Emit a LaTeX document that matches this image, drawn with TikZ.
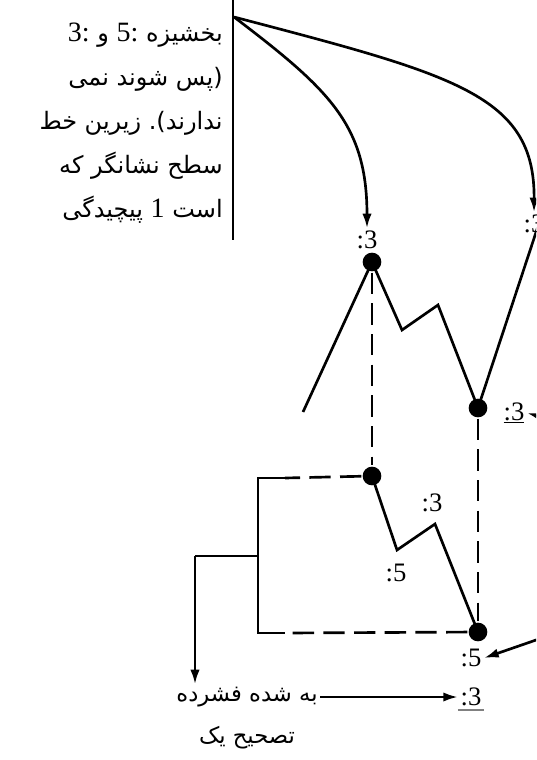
\documentclass[tikz,border=0pt]{standalone}
\usepackage{fontspec}
\setmainfont{Liberation Serif}
\newfontfamily\fafont[Script=Arabic]{DejaVu Sans}
\usetikzlibrary{arrows.meta}
% one word in its own box, so the words keep the order of the reference
\newcommand\fw[1]{\hbox{#1}}
\newcommand\fdig[1]{\hbox{\rmfamily\fontsize{21}{22}\selectfont #1}}

\tikzset{
  dot/.style={circle,fill,inner sep=0pt,minimum size=14pt},
  num/.style={font=\fontsize{20}{22}\selectfont,inner sep=1pt},
  note/.style={font=\fafont\fontsize{18}{33}\selectfont,align=right,inner sep=0pt},
  fatext/.style={font=\fafont\fontsize{17}{20}\selectfont,inner sep=1pt},
  dline/.style={dash pattern=on 16pt off 7pt},
  tip/.style={-{Latex[length=11pt,width=7pt]}},
}

\begin{document}
\begin{tikzpicture}[x=0.75pt,y=-0.75pt,line width=2pt]
    \useasboundingbox (0,0) rectangle (536,760);
    \clip (0,0) rectangle (536,760);

    % note on the left, with its bar
    \node[note,anchor=east] (txt) at (224,123)
        {\fdig{3:} \fw{و} \fdig{5:} \fw{بخشیزه}\\
         \fw{نمی} \fw{شوند} \fw{(پس}\\
         \fw{خط} \fw{زیرین} \fw{ندارند).}\\
         \fw{که} \fw{نشانگر} \fw{سطح}\\
         \fw{پیچیدگی} \fdig{1} \fw{است}};
    \coordinate (bartop) at (233,0);
    \coordinate (barbot) at (233,240);
    \draw (bartop) -- (barbot);
    \coordinate (src) at (234,17);

    % upper path
    \coordinate (z0) at (303,412);
    \node[dot] (a) at (372,262) {};
    \coordinate (z1) at (402,330);
    \coordinate (z2) at (438,305);
    \node[dot] (b) at (478,408) {};
    \coordinate (z3) at (550,190);
    \draw (z0) -- (a.center) -- (z1) -- (z2) -- (b.center) -- (z3);

    \node[num] (la) at (367,240) {:3};
    \node[num] (lb) at (534,224) {:3};
    \node[num] (lc) at (514,413) {\underline{:3}};

    % arrows from the note
    \draw[tip] (src) .. controls (330,90) and (367,125) .. (la.north);
    \draw[tip] (src) .. controls (455,75) and (535,95) .. (lb.north);
    \coordinate (inc) at (575,426);
    \draw[tip] (inc) -- (lc.east);

    % lower path
    \node[dot] (c) at (372,476) {};
    \coordinate (y1) at (397,550);
    \coordinate (y2) at (435,524);
    \node[dot] (d) at (478,632) {};
    \draw (c.center) -- (y1) -- (y2) -- (d.center);
    \node[num] (ld) at (396,573) {:5};
    \node[num] (le) at (432,503) {:3};

    % dashed links
    \draw[dline] (a) -- (c);
    \draw[dline] (b) -- (d);
    \coordinate (k1) at (285,478);
    \coordinate (k2) at (285,633);
    \draw[dline] (c) -- (k1);
    \draw[dline] (d) -- (k2);

    % bracket and branch
    \coordinate (bk1) at (258,478);
    \coordinate (bk2) at (258,633);
    \coordinate (bm) at (258,556);
    \coordinate (br) at (195,556);
    \draw (k1) -- (bk1) -- (bk2) -- (k2);
    \draw (bm) -- (br);

    % bottom labels
    \node[num] (lf) at (471,658) {:5};
    \node[num] (lg) at (471,697) {:3};
    \draw[gray,line width=1.5pt] ([yshift=-1pt]lg.south west) -- ([yshift=-1pt]lg.south east);
    \coordinate (inf) at (565,630);
    \draw[tip] (inf) -- (lf.east);

    \node[fatext] (fs1) at (247,697) {\fw{فشرده} \fw{شده} \fw{به}};
    \node[fatext] (fs2) at (247,738) {\fw{یک} \fw{تصحیح}};
    \draw[tip] (br) -- (br |- fs1.north);
    \draw[tip] (fs1.east) -- (lg.west);
\end{tikzpicture}
\end{document}
